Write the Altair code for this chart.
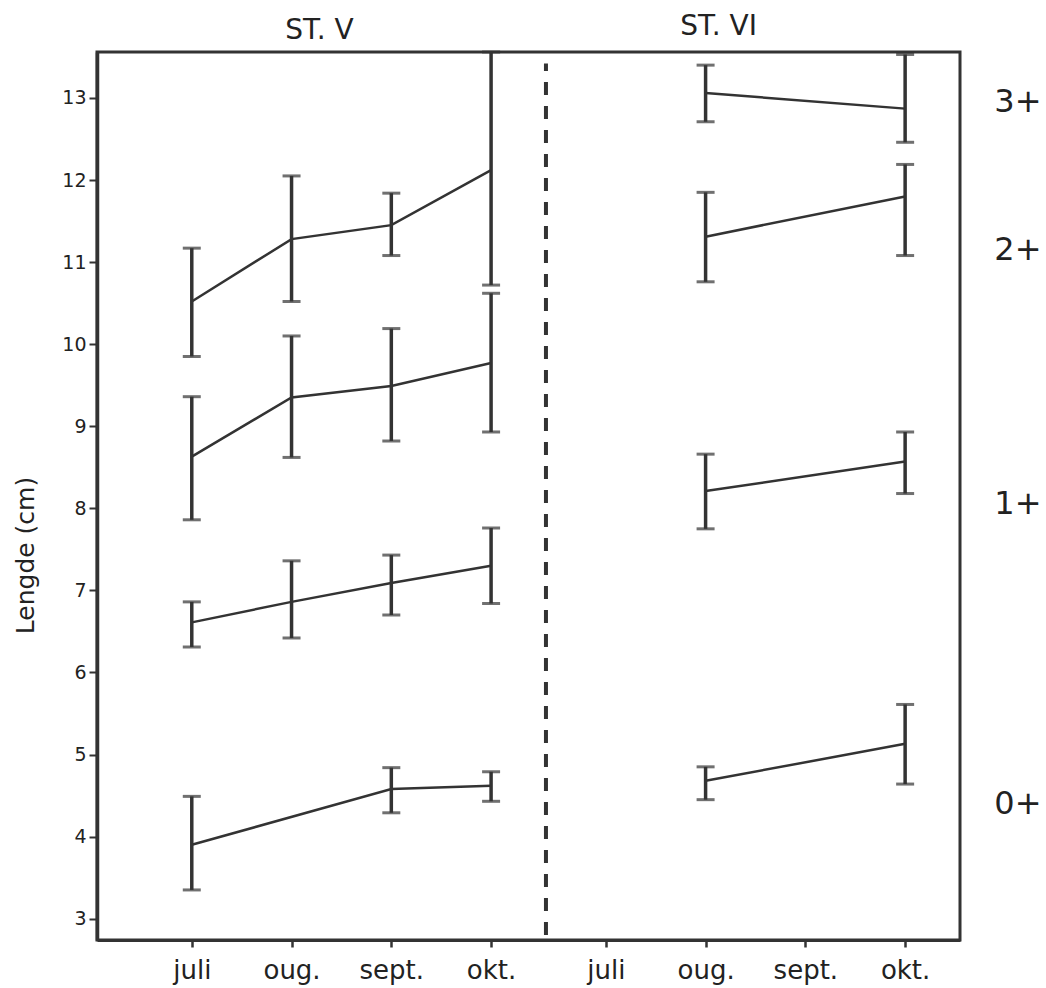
import altair as alt
import pandas as pd

# ---------------- data ----------------
months = ["juli", "oug.", "sept.", "okt."]
stations = ["ST. V", "ST. VI"]
groups = ["0+", "1+", "2+", "3+"]

# St. V  (juli, oug., sept., okt.)  None = no sample
st5_mean = {
    "0+": [3.90, None, 4.58, 4.62],
    "1+": [6.61, 6.86, 7.09, 7.30],
    "2+": [8.63, 9.35, 9.49, 9.77],
    "3+": [10.52, 11.28, 11.45, 12.12],
}
st5_lo = {
    "0+": [3.35, None, 4.29, 4.43],
    "1+": [6.31, 6.42, 6.70, 6.84],
    "2+": [7.86, 8.62, 8.82, 8.93],
    "3+": [9.85, 10.52, 11.08, 10.72],
}
st5_hi = {
    "0+": [4.49, None, 4.84, 4.79],
    "1+": [6.86, 7.36, 7.43, 7.76],
    "2+": [9.36, 10.10, 10.19, 10.62],
    "3+": [11.17, 12.05, 11.84, 13.56],
}

# St. VI (juli, oug., sept., okt.)
st6_mean = {
    "0+": [None, 4.68, None, 5.13],
    "1+": [None, 8.21, None, 8.57],
    "2+": [None, 11.31, None, 11.80],
    "3+": [None, 13.06, None, 12.87],
}
st6_lo = {
    "0+": [None, 4.45, None, 4.64],
    "1+": [None, 7.75, None, 8.18],
    "2+": [None, 10.76, None, 11.08],
    "3+": [None, 12.71, None, 12.46],
}
st6_hi = {
    "0+": [None, 4.85, None, 5.61],
    "1+": [None, 8.66, None, 8.93],
    "2+": [None, 11.85, None, 12.19],
    "3+": [None, 13.40, None, 13.53],
}

# right-hand age-group labels (value on the length axis where they sit)
group_label_y = [4.40, 8.05, 11.15, 12.95]

y_ticks = [3, 4, 5, 6, 7, 8, 9, 10, 11, 12, 13]

# ---------------- layout constants ----------------
ST6_SHIFT = 4.15           # horizontal offset of the St. VI month block
DIVIDER_X = 4.55           # dashed separator
X_DOMAIN = [0.05, 8.7]
Y_DOMAIN = [2.74, 13.56]
INK = "#333333"
TXT = "#222222"
FONT = "DejaVu Sans"

rows = []
for st, (M, L, H) in zip(stations, [(st5_mean, st5_lo, st5_hi), (st6_mean, st6_lo, st6_hi)]):
    for g in groups:
        for i, m in enumerate(months):
            if M[g][i] is None:
                continue
            rows.append({
                "station": st, "group": g, "month": i + 1, "label": m,
                "mean": M[g][i], "lo": L[g][i], "hi": H[g][i],
                "series": st + " " + g,
            })
df = pd.DataFrame(rows)

xscale = alt.Scale(domain=X_DOMAIN, nice=False, zero=False)
yscale = alt.Scale(domain=Y_DOMAIN, nice=False, zero=False)

tick_vals = [i + 1 for i in range(4)] + [i + 1 + ST6_SHIFT for i in range(4)]
label_expr = ("['juli','oug.','sept.','okt.'][round(datum.value - (datum.value > %s ? %s : 0)) - 1]"
              % (DIVIDER_X, ST6_SHIFT))

x_enc = alt.X("x:Q", scale=xscale,
              axis=alt.Axis(values=tick_vals, labelExpr=label_expr, title=None, grid=False,
                            tickSize=7, tickWidth=2.5, tickColor=INK, labelFontSize=26,
                            labelFont=FONT, labelColor=TXT, labelPadding=10,
                            domainColor=INK, domainWidth=3))
y_axis = alt.Axis(values=y_ticks, format="d", title="Lengde (cm)", grid=False, tickSize=8,
                  tickWidth=2, tickColor=INK, labelFontSize=19, labelFont=FONT, labelColor=TXT,
                  labelPadding=3, domainColor=INK, domainWidth=3.5,
                  titleFont=FONT, titleFontSize=25, titleFontWeight="normal", titleColor=TXT,
                  titleAngle=270, titleX=-72, titleY=503, titleAlign="center",
                  titleBaseline="middle")

base = alt.Chart(df).transform_calculate(
    x="datum.month + (datum.station == 'ST. VI' ? %s : 0)" % ST6_SHIFT
)

lines = base.mark_line(color=INK, strokeWidth=2.5).encode(
    x=x_enc,
    y=alt.Y("mean:Q", scale=yscale, axis=y_axis),
    detail="series:N",
)
bars = base.mark_rule(color=INK, strokeWidth=3.5).encode(
    x="x:Q", y="lo:Q", y2="hi:Q"
)
cap_lo = base.mark_tick(color=INK, orient="horizontal", size=18, thickness=3).encode(
    x="x:Q", y="lo:Q"
)
cap_hi = base.mark_tick(color=INK, orient="horizontal", size=18, thickness=3).encode(
    x="x:Q", y="hi:Q"
)

divider = alt.Chart(pd.DataFrame({"x": [DIVIDER_X], "y": [2.80], "y2": [13.42]})).mark_rule(
    color=INK, strokeWidth=4, strokeDash=[13, 11]
).encode(x="x:Q", y="y:Q", y2="y2:Q")

titles_df = pd.DataFrame({"text": stations, "x": [2.28, 6.28], "y": [13.82, 13.86]})
titles = alt.Chart(titles_df).mark_text(
    font=FONT, fontSize=28, color=TXT, align="center", baseline="middle"
).encode(x="x:Q", y="y:Q", text="text:N")

glabels_df = pd.DataFrame({"text": groups, "y": group_label_y, "x": [9.28] * 4})
glabels = alt.Chart(glabels_df).mark_text(
    font=FONT, fontSize=32, color=TXT, align="center", baseline="middle"
).encode(x="x:Q", y="y:Q", text="text:N")

chart = alt.layer(lines, bars, cap_lo, cap_hi, divider, titles, glabels).properties(
    width=863, height=888,
    autosize=alt.AutoSizeParams(type="none"),
    padding={"left": 97, "top": 52, "right": 86, "bottom": 48},
    background="white",
).configure_view(stroke=INK, strokeWidth=3)

chart.save("out.html", embed_options={"renderer": "svg", "actions": False})
